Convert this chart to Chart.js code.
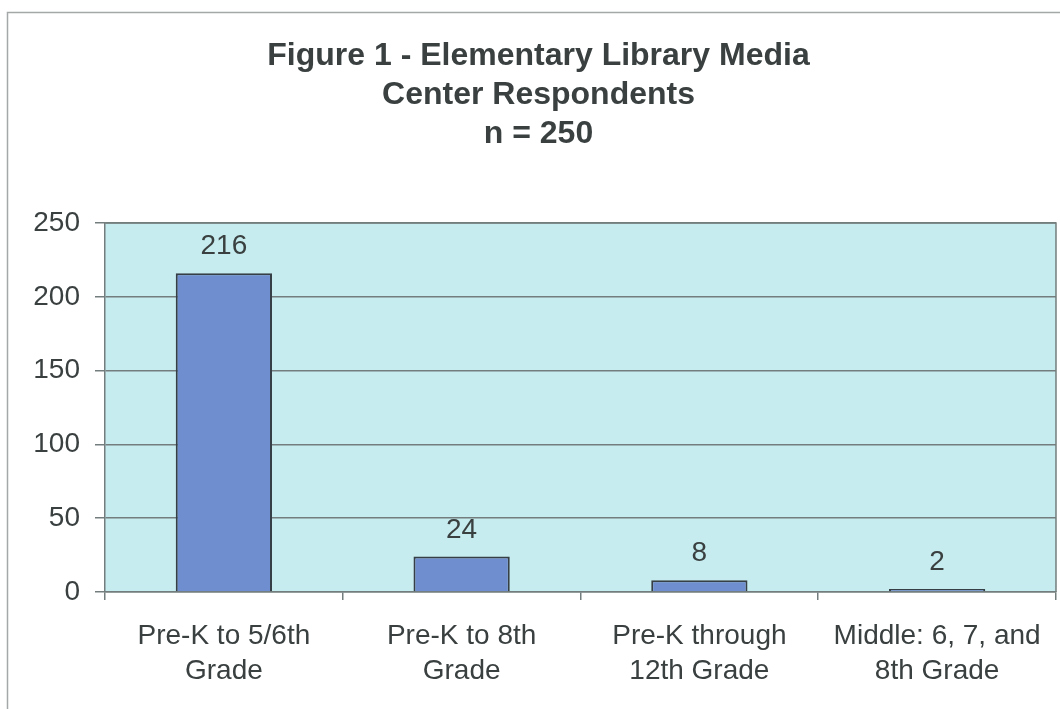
<!DOCTYPE html>
<html>
<head>
<meta charset="utf-8">
<script src="https://cdn.jsdelivr.net/npm/chart.js@4.4.1/dist/chart.umd.min.js"></script>
<style>
  html, body { margin: 0; padding: 0; background: #fff; }
  canvas { display: block; }
</style>
</head>
<body>
<canvas id="chart" width="1060" height="709"></canvas>
<script>
const titleLines = ["Figure 1 - Elementary Library Media", "Center Respondents", "n = 250"];
const categories = [
  ["Pre-K to 5/6th", "Grade"],
  ["Pre-K to 8th", "Grade"],
  ["Pre-K through", "12th Grade"],
  ["Middle: 6, 7, and", "8th Grade"]
];
const respondents = [216, 24, 8, 2];
const yTicks = [0, 50, 100, 150, 200, 250];

const textColor = "#3a4040";
const lineColor = "#737d7d";
const fontFamily = "'Liberation Sans', Arial, sans-serif";

// cyan plot background + outer frame
const backdrop = {
  id: "backdrop",
  beforeDraw(chart) {
    const { ctx, chartArea: a } = chart;
    ctx.save();
    ctx.fillStyle = "#fff";
    ctx.fillRect(0, 0, chart.width, chart.height);
    ctx.strokeStyle = "#a4a8a8";
    ctx.lineWidth = 1.5;
    ctx.strokeRect(7.5, 12.5, 1100, 800);
    ctx.fillStyle = "#c6ecef";
    ctx.fillRect(a.left, a.top, a.right - a.left, a.bottom - a.top);
    ctx.restore();
  },
  afterDraw(chart) {
    const { ctx, chartArea: a } = chart;
    ctx.save();
    ctx.strokeStyle = lineColor;
    ctx.lineWidth = 1.5;
    ctx.beginPath();
    ctx.moveTo(a.left, a.top);
    ctx.lineTo(a.right, a.top);
    ctx.lineTo(a.right, a.bottom);
    ctx.stroke();
    ctx.restore();
  }
};

// value above each bar
const barValues = {
  id: "barValues",
  afterDatasetsDraw(chart) {
    const { ctx } = chart;
    const meta = chart.getDatasetMeta(0);
    ctx.save();
    ctx.font = "28px " + fontFamily;
    ctx.fillStyle = textColor;
    ctx.textAlign = "center";
    ctx.textBaseline = "alphabetic";
    meta.data.forEach((bar, i) => {
      ctx.fillText(String(respondents[i]), bar.x, bar.y - 19);
    });
    ctx.restore();
  }
};

new Chart(document.getElementById("chart"), {
  type: "bar",
  data: {
    labels: categories,
    datasets: [{
      data: respondents,
      backgroundColor: "#6f8ecf",
      borderColor: "#363e46",
      borderWidth: 2,
      categoryPercentage: 1,
      barPercentage: 0.405
    }]
  },
  options: {
    responsive: false,
    animation: false,
    layout: { padding: { left: 20, right: 3, top: 0, bottom: 0 } },
    plugins: {
      legend: { display: false },
      tooltip: { enabled: false },
      title: {
        display: true,
        text: titleLines,
        color: textColor,
        font: { family: fontFamily, size: 32, weight: "bold", lineHeight: 1.22 },
        padding: { top: 37, bottom: 69 }
      }
    },
    scales: {
      x: {
        offset: true,
        grid: {
          offset: true,
          drawOnChartArea: false,
          color: lineColor,
          lineWidth: 1.5,
          tickLength: 8
        },
        border: { color: lineColor, width: 1.5 },
        ticks: {
          color: textColor,
          padding: 19,
          font: { family: fontFamily, size: 28, lineHeight: 1.25 }
        },
        afterFit(scale) { scale.height = 117; }
      },
      y: {
        min: 0,
        max: 250,
        afterBuildTicks(scale) { scale.ticks = yTicks.map(v => ({ value: v })); },
        grid: {
          color: lineColor,
          lineWidth: 1.5,
          tickLength: 10
        },
        border: { color: lineColor, width: 1.5 },
        ticks: {
          color: textColor,
          padding: 15,
          font: { family: fontFamily, size: 28 }
        },
        afterFit(scale) { scale.width = 85; }
      }
    }
  },
  plugins: [backdrop, barValues]
});
</script>
</body>
</html>
